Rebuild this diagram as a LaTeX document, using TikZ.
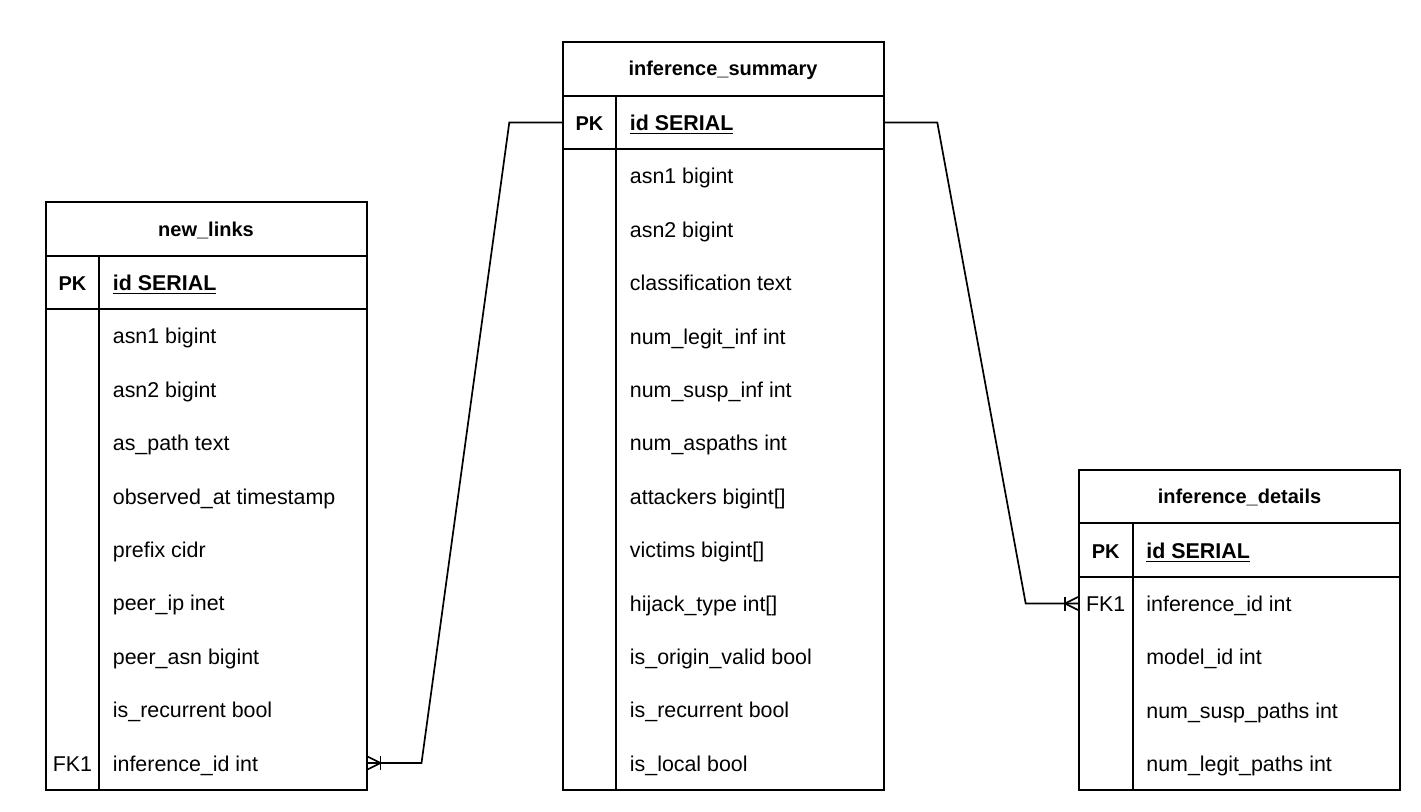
\documentclass[tikz,border=0pt]{standalone}
\usepackage{fontspec}
\setmainfont{Liberation Sans}
\usetikzlibrary{calc}

% one unit = 0.5pt, y grows downwards
\tikzset{
  frame/.style={draw, line width=1pt},
  rule/.style={line width=1pt},
  link/.style={line width=0.85pt, line join=miter},
  title/.style={font=\bfseries, inner sep=0pt, anchor=center, yshift=-0.5pt},
  keycell/.style={inner sep=0pt, anchor=center, text height=0.8em, text depth=0em},
  valcell/.style={inner sep=0pt, anchor=west, text height=0.8em, text depth=0em},
}
\newcommand{\pkfield}{\textbf{\underline{id SERIAL}}}

\begin{document}
\begin{tikzpicture}[x=0.5pt, y=-0.5pt, font=\fontsize{10.7}{12.8}\selectfont]
\useasboundingbox (0,0) rectangle (1421,811);

% ---------------- new_links ----------------
\coordinate (nl) at (45.5,202.3);
\draw[frame] (nl) rectangle ++(321,587.4);
\draw[rule] ($(nl)+(0,53.4)$) -- ++(321,0);
\draw[rule] ($(nl)+(0,106.8)$) -- ++(321,0);
\draw[rule] ($(nl)+(53.8,53.4)$) -- ($(nl)+(53.8,587.4)$);
\node[title] (nl-title) at ($(nl)+(160.5,26.7)$) {new\_links};
\node[keycell, font=\bfseries] (nl-pkk) at ($(nl)+(26.9,80.1)$) {PK};
\node[valcell] (nl-pk) at ($(nl)+(67,80.1)$) {\pkfield};
\foreach \t [count=\i] in {asn1 bigint, asn2 bigint, as\_path text,
    observed\_at timestamp, prefix cidr, peer\_ip inet, peer\_asn bigint,
    is\_recurrent bool, inference\_id int}
  \node[valcell] (nl-\i) at ($(nl)+(67,{53.4*(\i+1)+26.7})$) {\t};
\node[keycell] (nl-fkk) at ($(nl)+(26.9,{53.4*10+26.7})$) {FK1};
\coordinate (nl-fk) at ($(nl)+(321,{53.4*10+26.7})$);

% ---------------- inference_summary ----------------
\coordinate (is) at (562.5,42.3);
\draw[frame] (is) rectangle ++(321,747.6);
\draw[rule] ($(is)+(0,53.4)$) -- ++(321,0);
\draw[rule] ($(is)+(0,106.8)$) -- ++(321,0);
\draw[rule] ($(is)+(53.8,53.4)$) -- ($(is)+(53.8,747.6)$);
\node[title] (is-title) at ($(is)+(160.5,26.7)$) {inference\_summary};
\node[keycell, font=\bfseries] (is-pkk) at ($(is)+(26.9,80.1)$) {PK};
\node[valcell] (is-pk) at ($(is)+(67,80.1)$) {\pkfield};
\foreach \t [count=\i] in {asn1 bigint, asn2 bigint, classification text,
    num\_legit\_inf int, num\_susp\_inf int, num\_aspaths int,
    {attackers bigint[]}, {victims bigint[]}, {hijack\_type int[]},
    is\_origin\_valid bool, is\_recurrent bool, is\_local bool}
  \node[valcell] (is-\i) at ($(is)+(67,{53.4*(\i+1)+26.7})$) {\t};
\coordinate (is-pk-w) at ($(is)+(0,80.1)$);
\coordinate (is-pk-e) at ($(is)+(321,80.1)$);

% ---------------- inference_details ----------------
\coordinate (id) at (1079,470);
\draw[frame] (id) rectangle ++(321,320.4);
\draw[rule] ($(id)+(0,53.4)$) -- ++(321,0);
\draw[rule] ($(id)+(0,106.8)$) -- ++(321,0);
\draw[rule] ($(id)+(53.5,53.4)$) -- ($(id)+(53.5,320.4)$);
\node[title] (id-title) at ($(id)+(160.5,26.7)$) {inference\_details};
\node[keycell, font=\bfseries] (id-pkk) at ($(id)+(26.75,80.1)$) {PK};
\node[valcell] (id-pk) at ($(id)+(67,80.1)$) {\pkfield};
\node[keycell] (id-fkk) at ($(id)+(26.75,133.5)$) {FK1};
\foreach \t [count=\i] in {inference\_id int, model\_id int,
    num\_susp\_paths int, num\_legit\_paths int}
  \node[valcell] (id-\i) at ($(id)+(67,{53.4*(\i+1)+26.7})$) {\t};
\coordinate (id-fk) at ($(id)+(0,133.5)$);

% ---------------- relationships ----------------
\coordinate (b1) at ($(nl-fk)+(55,0)$);
\coordinate (b2) at ($(is-pk-w)+(-53.2,0)$);
\draw[link] (nl-fk) -- (b1) -- (b2) -- (is-pk-w);
% one-to-many end at new_links
\draw[link] ($(nl-fk)+(1,-6.5)$) -- ($(nl-fk)+(14,0)$) -- ($(nl-fk)+(1,6.5)$);
\draw[link] ($(nl-fk)+(14,-7)$) -- ($(nl-fk)+(14,7)$);

\coordinate (b3) at ($(is-pk-e)+(53.8,0)$);
\coordinate (b4) at ($(id-fk)+(-53.3,0)$);
\draw[link] (is-pk-e) -- (b3) -- (b4) -- (id-fk);
% one-to-many end at inference_details
\draw[link] ($(id-fk)+(-1,-6.5)$) -- ($(id-fk)+(-14,0)$) -- ($(id-fk)+(-1,6.5)$);
\draw[link] ($(id-fk)+(-14,-7)$) -- ($(id-fk)+(-14,7)$);
\end{tikzpicture}
\end{document}
